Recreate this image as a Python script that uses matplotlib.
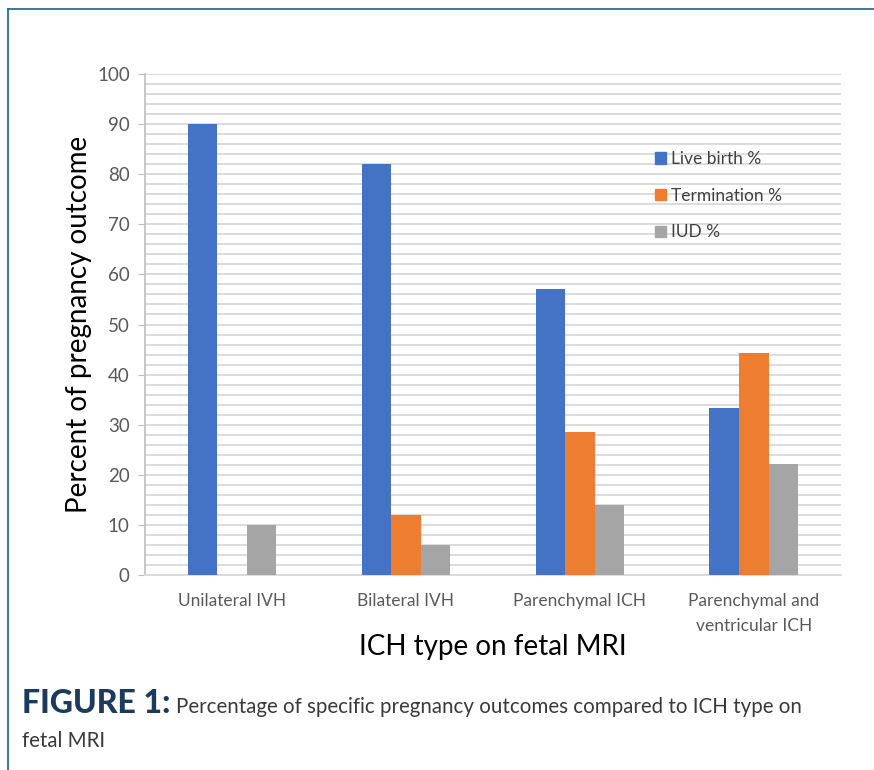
import numpy as np
import matplotlib as mpl
import matplotlib.pyplot as plt
from matplotlib.patches import Patch
from matplotlib.lines import Line2D

categories = ["Unilateral IVH", "Bilateral IVH", "Parenchymal ICH",
              "Parenchymal and\nventricular ICH"]
live_birth = [90, 82, 57, 33.3]
termination = [0, 12, 28.6, 44.4]
iud = [10, 6, 14, 22.2]
series_names = ["Live birth %", "Termination %", "IUD %"]
colors = ["#4472c4", "#ed7d31", "#a5a5a5"]

mpl.rcParams["font.family"] = ["Lato", "DejaVu Sans"]

fig = plt.figure(figsize=(8.74, 7.7), dpi=100)
ax = fig.add_axes([0.166, 0.2532, 0.796, 0.6507])

x = np.arange(len(categories))
w = 0.17
for i, (vals, c) in enumerate(zip([live_birth, termination, iud], colors)):
    ax.bar(x + (i - 1) * w, vals, width=w, color=c, zorder=3)

ax.set_xlim(-0.5, 3.5)
ax.set_ylim(0, 100)
ax.set_yticks(np.arange(0, 101, 10))
ax.set_yticks(np.arange(0, 101, 2), minor=True)
ax.grid(axis="y", which="both", color="#d9d9d9", lw=1.3, zorder=0)
ax.set_xticks(x)
ax.set_xticklabels(categories, fontsize=12.5, color="#595959", linespacing=1.7)
ax.tick_params(axis="x", length=0, pad=13)
ax.tick_params(axis="y", which="major", length=5, color="#bfbfbf",
               labelsize=13.5, labelcolor="#595959", pad=6)
ax.tick_params(axis="y", which="minor", length=0)
for s in ["top", "right"]:
    ax.spines[s].set_visible(False)
ax.spines["left"].set_color("#bfbfbf")
ax.spines["bottom"].set_color("#d9d9d9")
ax.spines["left"].set_linewidth(1.2)
ax.spines["bottom"].set_linewidth(1.3)

ax.set_xlabel("ICH type on fetal MRI", fontsize=20, color="black", labelpad=0)
ax.set_ylabel("Percent of pregnancy outcome", fontsize=20, color="black", labelpad=4)

handles = [Patch(color=c) for c in colors]
ax.legend(handles, series_names, loc="upper left", bbox_to_anchor=(0.72, 0.864),
          frameon=False, fontsize=12.5, labelcolor="#404040", handlelength=0.65,
          handleheight=0.65, handletextpad=0.3, labelspacing=1.2, borderpad=0)

# border of the figure panel
border = "#1f5f8f"
fig.add_artist(Line2D([8 / 874, 1.0], [1 - 9 / 770, 1 - 9 / 770], color=border, lw=1.2))
fig.add_artist(Line2D([8 / 874, 8 / 874], [0, 1 - 9 / 770], color=border, lw=1.2))

# caption
t1 = fig.text(22 / 874, 1 - 713 / 770, "FIGURE 1:", fontsize=23, fontweight="black",
              color="#1b3a5c", va="baseline")
fig.canvas.draw()
bb = t1.get_window_extent()
fig.text((bb.x1 + 5) / 874, 1 - 713 / 770,
         "Percentage of specific pregnancy outcomes compared to ICH type on",
         fontsize=14.8, color="#3a3a3a", va="baseline")
fig.text(22 / 874, 1 - 747 / 770, "fetal MRI", fontsize=14.8, color="#3a3a3a",
         va="baseline")

fig.savefig("out.png", dpi=100)
